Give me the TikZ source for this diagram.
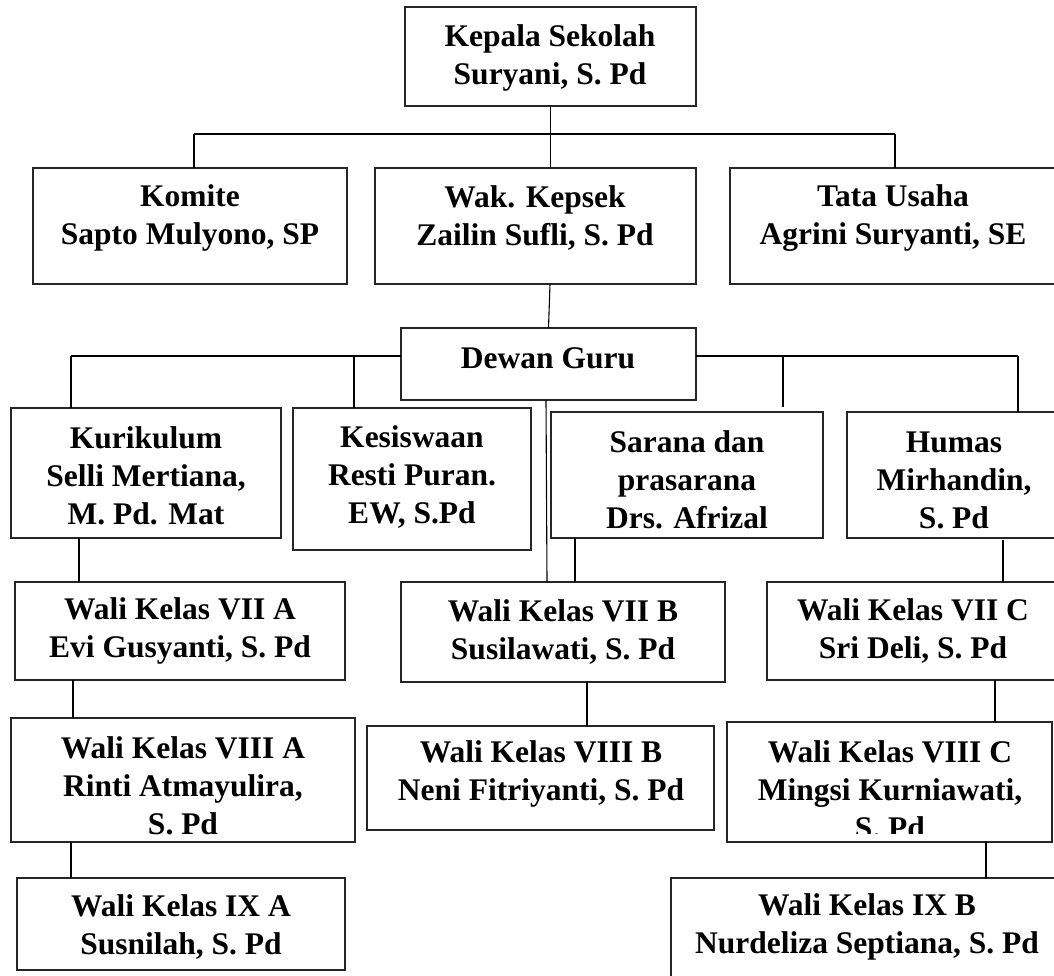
\documentclass[tikz,border=0pt]{standalone}
\usepackage{fontspec}
\setmainfont{Liberation Serif}
\begin{document}
\begin{tikzpicture}[x=1pt,y=-1pt,
  box/.style={draw=black!85, line width=1.3pt, rectangle, inner sep=0pt, outer sep=0pt},
  txt/.style={inner sep=0pt, align=center, font=\bfseries\fontsize{31.5}{38}\selectfont},
  conn/.style={draw=black, line width=1.1pt},
  bus/.style={draw=black, line width=2.2pt}]
\newcommand{\obox}[8]{%
  \node[box, minimum width={#4-#2}, minimum height={#5-#3}, anchor=north west] (#1) at (#2,#3) {};
  \node[txt] (#1t) at (#6,#7) {#8};}
\path[use as bounding box, clip] (0,0) rectangle (1054,976);
\fill[white] (0,0) rectangle (1054,976);
% boxes
\obox{kepala}{405}{7}{696}{106}{550}{58}{Kepala Sekolah\\Suryani, S. Pd}
\obox{komite}{33}{168}{347}{284}{190}{218}{Komite\\Sapto Mulyono, SP}
\obox{wak}{375}{168}{696}{284}{535}{218}{Wak. Kepsek\\Zailin Sufli, S. Pd}
\obox{tata}{730}{168}{1064}{284}{893}{218}{Tata Usaha\\Agrini Suryanti, SE}
\obox{dewan}{401}{328}{696}{400}{548}{358}{Dewan Guru}
\obox{kuri}{11}{408}{281}{538}{146}{476}{Kurikulum\\Selli Mertiana,\\M. Pd. Mat}
\obox{kesis}{293}{408}{531}{550}{412}{477}{Kesiswaan\\Resti Puran.\\EW, S.Pd}
\obox{sarana}{551}{412}{823}{538}{687}{480}{Sarana dan\\prasarana\\Drs. Afrizal}
\obox{humas}{847}{412}{1064}{538}{954}{480}{Humas\\Mirhandin,\\S. Pd}
\obox{viia}{15}{582}{345}{680}{180}{631}{Wali Kelas VII A\\Evi Gusyanti, S. Pd}
\obox{viib}{401}{582}{725}{682}{563}{632}{Wali Kelas VII B\\Susilawati, S. Pd}
\obox{viic}{767}{582}{1064}{680}{913}{631}{Wali Kelas VII C\\Sri Deli, S. Pd}
\obox{viiia}{11}{718}{355}{842}{183}{786}{Wali Kelas VIII A\\Rinti Atmayulira,\\S. Pd}
\obox{viiib}{367}{726}{714}{830}{541}{774}{Wali Kelas VIII B\\Neni Fitriyanti, S. Pd}
\node[box, minimum width=325, minimum height=120, anchor=north west] (viiic) at (727,722) {};
\begin{scope}
  \clip (727,722) rectangle (1052,833);
  \node[txt] (viiict) at (890,790) {Wali Kelas VIII C\\Mingsi Kurniawati,\\S. Pd};
\end{scope}
\obox{ixa}{17}{878}{345}{970}{181}{927}{Wali Kelas IX A\\Susnilah, S. Pd}
\obox{ixb}{671}{878}{1064}{995}{867}{927}{Wali Kelas IX B\\Nurdeliza Septiana, S. Pd}
% connectors
\coordinate (b1) at (kepala.south |- 0,134);
\draw[conn] (kepala.south) -- (kepala.south |- wak.north);
\draw[bus] ([xshift=4pt]komite.north |- b1) -- ([xshift=-2pt]tata.north |- b1);
\draw[conn] ([xshift=4pt]komite.north |- b1) -- ([xshift=4pt]komite.north);
\draw[conn] ([xshift=-2pt]tata.north |- b1) -- ([xshift=-2pt]tata.north);
\draw[conn] ([xshift=14.5pt]wak.south) -- (dewan.north);
% left bus
\draw[bus] ([yshift=8pt]dewan.west) -- ([xshift=-75pt]kuri.north |- 0,356);
\draw[conn] ([xshift=-75pt]kuri.north |- 0,356) -- ([xshift=-75pt]kuri.north);
\draw[conn] ([xshift=-58pt]kesis.north |- 0,356) -- ([xshift=-58pt]kesis.north);
% right bus
\draw[bus] ([yshift=8pt]dewan.east) -- ([xshift=62.5pt]humas.north |- 0,356);
\draw[conn] ([xshift=62.5pt]humas.north |- 0,356) -- ([xshift=62.5pt]humas.north);
\draw[conn] ([xshift=96pt]sarana.north |- 0,356) -- ([xshift=96pt,yshift=5pt]sarana.north);
% lower connectors
\draw[conn] ([xshift=-2.5pt]dewan.south) -- ([xshift=-16pt]viib.north);
\draw[conn] ([xshift=-112pt]sarana.south) -- ([xshift=-112pt]sarana.south |- viib.north);
\draw[conn] ([xshift=-67pt]kuri.south) -- ([xshift=-67pt]kuri.south |- viia.north);
\draw[conn] ([xshift=47.5pt,yshift=-2pt]humas.south) -- ([xshift=47.5pt]humas.south |- viic.north);
\draw[conn] ([xshift=-107pt]viia.south) -- ([xshift=-107pt]viia.south |- viiia.north);
\draw[conn] ([xshift=24pt]viib.south) -- ([xshift=24pt]viib.south |- viiib.north);
\draw[conn] ([xshift=79.5pt]viic.south) -- ([xshift=79.5pt]viic.south |- viiic.north);
\draw[conn] ([xshift=-112pt]viiia.south) -- ([xshift=-112pt]viiia.south |- ixa.north);
\draw[conn] ([xshift=96.5pt]viiic.south) -- ([xshift=96.5pt]viiic.south |- ixb.north);
\end{tikzpicture}
\end{document}
